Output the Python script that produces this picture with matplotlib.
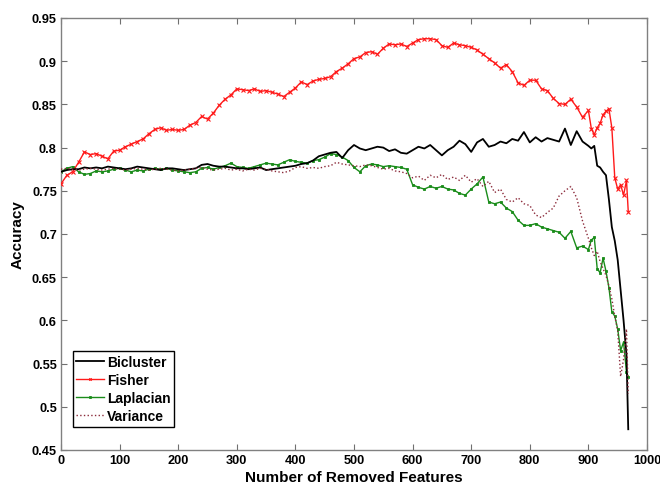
import matplotlib
matplotlib.use("Agg")
import matplotlib.pyplot as plt

plt.rcParams['font.family'] = ['Liberation Sans', 'DejaVu Sans']
plt.rcParams['font.weight'] = 'bold'

features = list(range(0, 901, 10)) + [905, 910, 915, 920, 925, 930, 935, 940, 945, 950, 955, 960, 965, 968]

bicluster = [
    0.772, 0.774, 0.775, 0.775, 0.777, 0.776, 0.777, 0.776, 0.778, 0.777,
    0.776, 0.775, 0.776, 0.778, 0.777, 0.776, 0.775, 0.774, 0.776, 0.776,
    0.775, 0.774, 0.775, 0.776, 0.780, 0.781, 0.779, 0.778, 0.778, 0.777,
    0.776, 0.776, 0.775, 0.776, 0.777, 0.774, 0.775, 0.776, 0.777, 0.778,
    0.779, 0.781, 0.782, 0.785, 0.790, 0.792, 0.794, 0.795, 0.788, 0.797,
    0.803, 0.799, 0.797, 0.799, 0.801, 0.800, 0.796, 0.798, 0.794, 0.793,
    0.797, 0.801, 0.799, 0.803, 0.797, 0.791, 0.797, 0.801, 0.808, 0.804,
    0.795, 0.806, 0.810, 0.801, 0.803, 0.807, 0.805, 0.810, 0.808, 0.818,
    0.806, 0.812, 0.807, 0.811, 0.809, 0.807, 0.822, 0.803, 0.819, 0.807,
    0.802,
    0.799, 0.802, 0.779, 0.777, 0.772, 0.768, 0.740, 0.708, 0.692, 0.670,
    0.635, 0.600, 0.560, 0.474]

fisher = [
    0.758, 0.768, 0.772, 0.783, 0.795, 0.792, 0.793, 0.790, 0.787, 0.796,
    0.797, 0.801, 0.804, 0.807, 0.810, 0.816, 0.821, 0.823, 0.820, 0.821,
    0.820, 0.821, 0.826, 0.829, 0.836, 0.833, 0.840, 0.849, 0.856, 0.861,
    0.868, 0.867, 0.866, 0.868, 0.865, 0.866, 0.864, 0.862, 0.859, 0.864,
    0.869, 0.876, 0.873, 0.877, 0.879, 0.880, 0.882, 0.888, 0.892, 0.897,
    0.903, 0.905, 0.910, 0.911, 0.908, 0.915, 0.920, 0.919, 0.920, 0.917,
    0.921, 0.925, 0.926, 0.926, 0.925, 0.918, 0.916, 0.921, 0.919, 0.918,
    0.916, 0.913, 0.908, 0.903, 0.898, 0.892, 0.896, 0.888, 0.875, 0.872,
    0.878, 0.878, 0.868, 0.866, 0.857, 0.851, 0.850, 0.856, 0.847, 0.835,
    0.843,
    0.822, 0.815, 0.823, 0.828, 0.838, 0.842, 0.845, 0.823, 0.765, 0.752,
    0.757, 0.745, 0.762, 0.726]

laplacian = [
    0.772, 0.776, 0.778, 0.772, 0.769, 0.770, 0.773, 0.772, 0.773, 0.775,
    0.776, 0.774, 0.772, 0.774, 0.773, 0.775, 0.776, 0.775, 0.776, 0.774,
    0.773, 0.772, 0.771, 0.772, 0.776, 0.777, 0.775, 0.777, 0.779, 0.782,
    0.778, 0.777, 0.776, 0.778, 0.780, 0.782, 0.781, 0.780, 0.783, 0.786,
    0.784, 0.783, 0.782, 0.785, 0.786, 0.789, 0.793, 0.792, 0.789, 0.785,
    0.777, 0.772, 0.779, 0.781, 0.780, 0.778, 0.779, 0.778, 0.777, 0.775,
    0.757, 0.754, 0.752, 0.755, 0.753, 0.755, 0.752, 0.751, 0.747, 0.745,
    0.752, 0.758, 0.766, 0.737, 0.735, 0.737, 0.730, 0.726, 0.716, 0.710,
    0.710, 0.712, 0.708, 0.706, 0.704, 0.702, 0.695, 0.703, 0.684, 0.686,
    0.682,
    0.693, 0.696, 0.660, 0.655, 0.672, 0.657, 0.638, 0.610, 0.605, 0.590,
    0.565, 0.575, 0.540, 0.535]

variance = [
    0.775, 0.776, 0.775, 0.774, 0.775, 0.776, 0.775, 0.774, 0.775, 0.776,
    0.775, 0.774, 0.775, 0.776, 0.775, 0.774, 0.775, 0.776, 0.775, 0.774,
    0.773, 0.774, 0.775, 0.776, 0.777, 0.775, 0.774, 0.775, 0.776, 0.774,
    0.775, 0.773, 0.775, 0.774, 0.776, 0.775, 0.773, 0.772, 0.771, 0.773,
    0.777, 0.778, 0.776, 0.777, 0.776, 0.778, 0.779, 0.783, 0.781, 0.780,
    0.779, 0.778, 0.780, 0.779, 0.777, 0.775, 0.776, 0.773, 0.772, 0.770,
    0.765, 0.767, 0.762, 0.768, 0.765, 0.769, 0.763, 0.766, 0.762, 0.768,
    0.760, 0.764, 0.755, 0.761, 0.748, 0.752, 0.740, 0.737, 0.742, 0.735,
    0.733, 0.722, 0.719, 0.725, 0.730, 0.744, 0.750, 0.755, 0.742, 0.715,
    0.695,
    0.684, 0.675, 0.680, 0.668, 0.660, 0.652, 0.640, 0.625, 0.605, 0.588,
    0.535, 0.555, 0.590, 0.515]

x_ticks = [0, 100, 200, 300, 400, 500, 600, 700, 800, 900, 1000]
y_ticks = [0.45, 0.5, 0.55, 0.6, 0.65, 0.7, 0.75, 0.8, 0.85, 0.9, 0.95]
y_tick_labels = ['0.45', '0.5', '0.55', '0.6', '0.65', '0.7', '0.75', '0.8', '0.85', '0.9', '0.95']

fig = plt.figure(figsize=(6.6, 4.89), dpi=100)
ax = fig.add_axes([61 / 660, 38 / 489, 586 / 660, 432 / 489])

ax.plot(features, bicluster, color='black', lw=1.3, label='Bicluster', zorder=4)
ax.plot(features, fisher, color='#ff1a1a', lw=1.0, marker='x', ms=2.5, mew=0.8,
        label='Fisher', zorder=3)
ax.plot(features, laplacian, color='#1a8c1a', lw=1.0, marker='s', ms=2.0, mew=0.6,
        mfc='#1a8c1a', label='Laplacian', zorder=2)
ax.plot(features, variance, color='#8b2a3a', lw=1.0, ls=':', label='Variance', zorder=5)

ax.set_xlim(0, 1000)
ax.set_ylim(0.45, 0.95)
ax.set_xticks(x_ticks)
ax.set_yticks(y_ticks)
ax.set_yticklabels(y_tick_labels)
ax.tick_params(direction='in', top=True, right=True, length=4, width=0.8,
               color='#707070', labelsize=9.2, pad=3)
for lab in ax.get_xticklabels() + ax.get_yticklabels():
    lab.set_fontweight('bold')
for sp in ax.spines.values():
    sp.set_color('#808080')
    sp.set_linewidth(1.0)

ax.set_xlabel('Number of Removed Features', fontsize=11, fontweight='bold', labelpad=3)
ax.set_ylabel('Accuracy', fontsize=11, fontweight='bold', labelpad=5)

leg = ax.legend(loc='lower left', bbox_to_anchor=(0.02, 0.054), fancybox=False,
                edgecolor='black', framealpha=1, fontsize=10, handlelength=2.0,
                handletextpad=0.2, borderpad=0.25, labelspacing=0.3,
                borderaxespad=0, markerscale=0.7)
leg.get_frame().set_linewidth(1.0)
for t in leg.get_texts():
    t.set_fontweight('bold')

fig.savefig('out.png', dpi=100)
